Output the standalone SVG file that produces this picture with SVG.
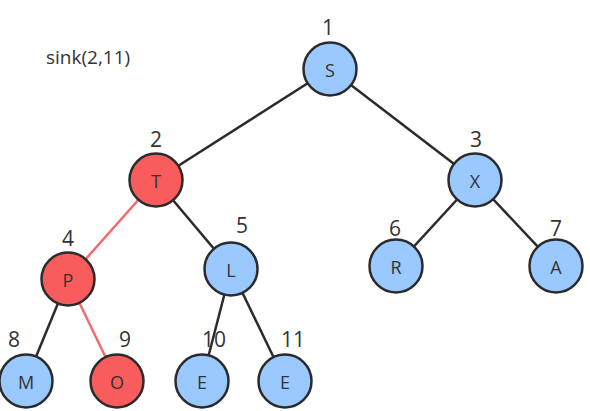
<svg xmlns="http://www.w3.org/2000/svg" width="590" height="411" viewBox="0 0 590 411">
<style>
.e{stroke:#2b2b2b;stroke-width:2.5;fill:none}
.er{stroke:#f56a6a;stroke-width:2.5;fill:none}
.b{fill:#99c9ff;stroke:#2b2b2b;stroke-width:2.5}
.r{fill:#f85c5c;stroke:#2b2b2b;stroke-width:2.5}
.t{font-family:"Open Sans","Liberation Sans",sans-serif;font-size:18px;fill:#333;text-anchor:middle;dominant-baseline:central}
.n{font-family:"Open Sans","Liberation Sans",sans-serif;font-size:21px;fill:#333;text-anchor:middle}
</style>
<rect width="590" height="411" fill="#fff"/>
<text x="46" y="64" font-family="'Open Sans','Liberation Sans',sans-serif" font-size="19" fill="#333">sink(2,11)</text>
<g id="edges">
<line class="e" x1="330" y1="69" x2="156" y2="180"/>
<line class="e" x1="330" y1="69" x2="475" y2="180"/>
<line class="er" x1="156" y1="180" x2="68" y2="279"/>
<line class="e" x1="156" y1="180" x2="231" y2="269"/>
<line class="e" x1="475" y1="180" x2="396" y2="266"/>
<line class="e" x1="475" y1="180" x2="556" y2="266"/>
<line class="e" x1="68" y1="279" x2="26" y2="381"/>
<line class="er" x1="68" y1="279" x2="117" y2="381"/>
<line class="e" x1="231" y1="269" x2="202" y2="381"/>
<line class="e" x1="231" y1="269" x2="285" y2="381"/>
</g>
<g id="n1"><circle class="b" cx="330" cy="69" r="26.5"/><text class="t" x="330" y="70">S</text><text class="n" x="328" y="35">1</text></g>
<g id="n2"><circle class="r" cx="156" cy="180" r="26.5"/><text class="t" x="156" y="181">T</text><text class="n" x="156" y="147">2</text></g>
<g id="n3"><circle class="b" cx="475" cy="180" r="26.5"/><text class="t" x="475" y="181">X</text><text class="n" x="476" y="147">3</text></g>
<g id="n4"><circle class="r" cx="68" cy="279" r="26.5"/><text class="t" x="68" y="280">P</text><text class="n" x="68" y="246">4</text></g>
<g id="n5"><circle class="b" cx="231" cy="269" r="26.5"/><text class="t" x="231" y="270">L</text><text class="n" x="242" y="233">5</text></g>
<g id="n6"><circle class="b" cx="396" cy="266" r="26.5"/><text class="t" x="396" y="267">R</text><text class="n" x="395" y="236">6</text></g>
<g id="n7"><circle class="b" cx="556" cy="266" r="26.5"/><text class="t" x="556" y="267">A</text><text class="n" x="556" y="236">7</text></g>
<g id="n8"><circle class="b" cx="26" cy="381" r="26.5"/><text class="t" x="26" y="382">M</text><text class="n" x="14" y="347">8</text></g>
<g id="n9"><circle class="r" cx="117" cy="381" r="26.5"/><text class="t" x="117" y="382">O</text><text class="n" x="125" y="347">9</text></g>
<g id="n10"><circle class="b" cx="202" cy="381" r="26.5" stroke-width="3" stroke="#111"/><text class="t" x="202" y="382">E</text><text class="n" x="214" y="347">10</text></g>
<g id="n11"><circle class="b" cx="285" cy="381" r="26.5"/><text class="t" x="285" y="382">E</text><text class="n" x="293" y="347">11</text></g>
</svg>
